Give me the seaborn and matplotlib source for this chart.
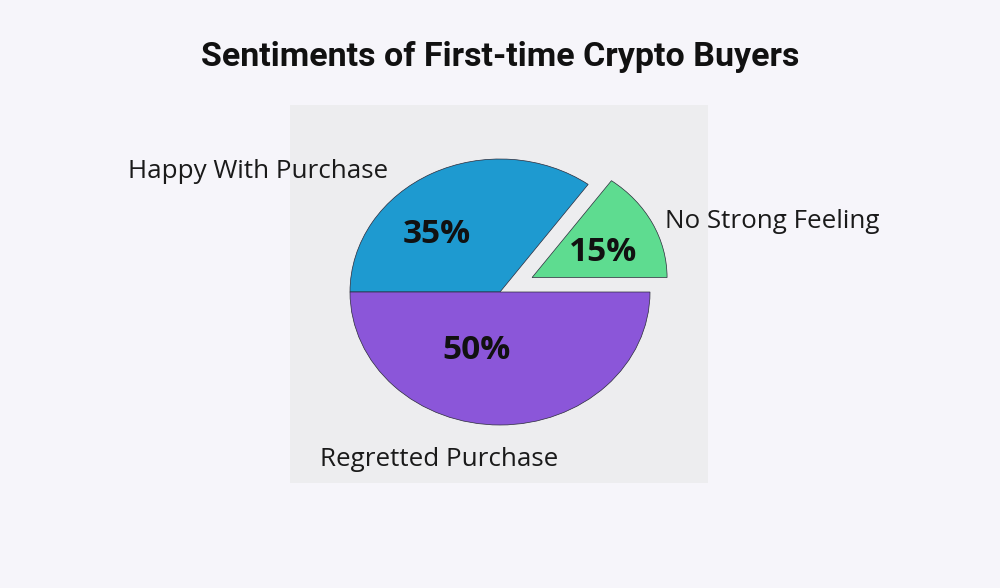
import matplotlib
matplotlib.use("Agg")
import matplotlib.pyplot as plt
import seaborn as sns

sns.set_theme(style="white")
plt.rcParams['font.family'] = ['Open Sans', 'DejaVu Sans']

categories = ["No Strong Feeling", "Happy With Purchase", "Regretted Purchase"]
values = [15, 35, 50]
pct_labels = ["15%", "35%", "50%"]
colors = ["#5edc90", "#1e9ad0", "#8b56d9"]
title = "Sentiments of First-time Crypto Buyers"

W, H = 1000, 588
fig = plt.figure(figsize=(W / 100, H / 100), dpi=100)
fig.patch.set_facecolor("#f6f5fa")

# photo-like panel area (pixels)
px0, px1, py0, py1 = 290, 708, 105, 483
cx, cy, rx, ry = 500, 292, 150, 133
ax = fig.add_axes([px0 / W, 1 - py1 / H, (px1 - px0) / W, (py1 - py0) / H])
ax.set_facecolor("#ededef")
for s in ax.spines.values():
    s.set_visible(False)
ax.set_xticks([]); ax.set_yticks([])

wedges, texts, autotexts = ax.pie(
    values, colors=colors, startangle=0, counterclock=True,
    explode=[0.24, 0, 0], autopct=lambda p: "",
    wedgeprops=dict(edgecolor="#2a2a3a", linewidth=0.5),
    frame=True,
)
wedges[0].set_radius(0.9)
ax.set_aspect("auto")
ax.set_xlim((px0 - cx) / rx, (px1 - cx) / rx)
ax.set_ylim(-(py1 - cy) / ry, (cy - py0) / ry)

# percent labels
pct_pos = [(0.69, 0.30), (-0.42, 0.43), (-0.16, -0.44)]
for (x, y), t in zip(pct_pos, pct_labels):
    ax.text(x, y, t, ha="center", va="center", fontsize=24, fontweight="bold",
            color="#111111")

# category labels (figure pixel positions)
label_pos = [(665, 221, "left"), (128, 172, "left"), (320, 460, "left")]
for (x, y, ha), c in zip(label_pos, categories):
    fig.text(x / W, 1 - y / H, c, ha=ha, va="center", fontsize=18.7, color="#1a1a1a")

fig.text(0.5, 1 - 57 / H, title, ha="center", va="center", fontsize=24.5,
         fontweight="bold", color="#111111", family=["Roboto", "DejaVu Sans"])

fig.savefig("out.png", dpi=100, facecolor=fig.get_facecolor())
